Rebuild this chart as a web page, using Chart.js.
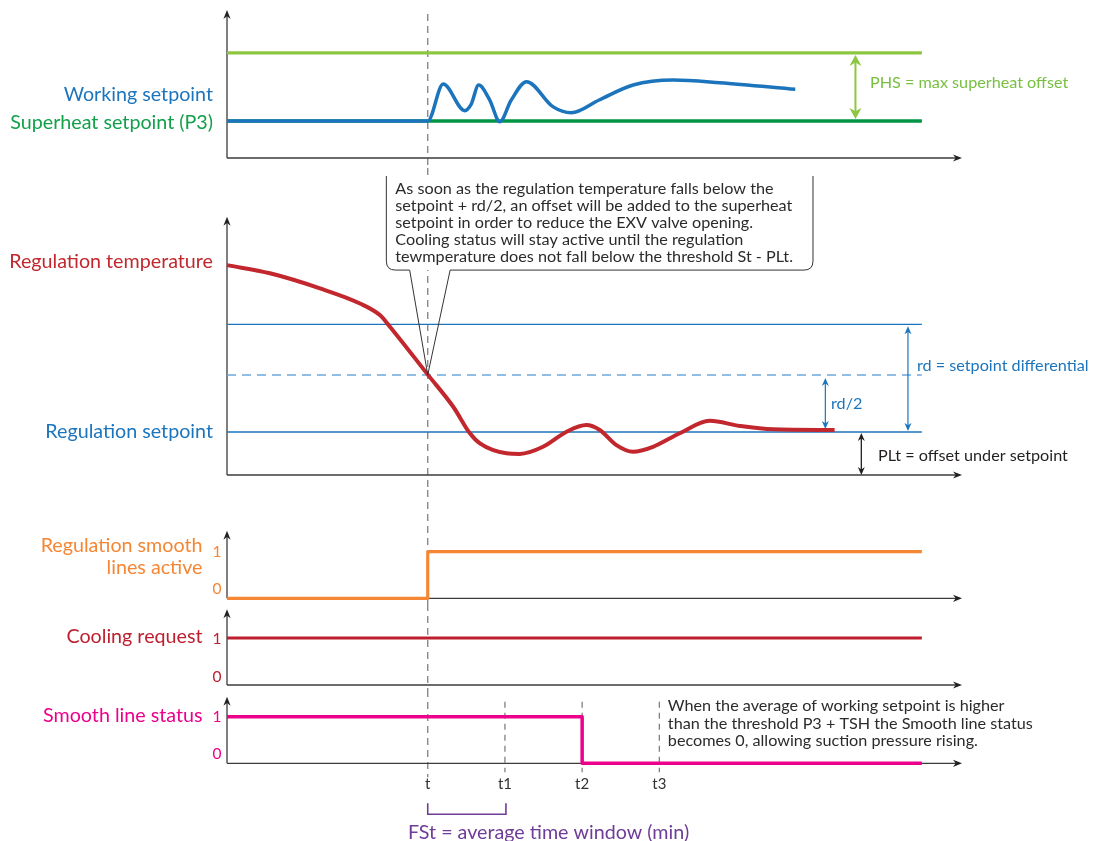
<!DOCTYPE html>
<html>
<head>
<meta charset="utf-8">
<script src="https://cdn.jsdelivr.net/npm/chart.js@4.4.1/dist/chart.umd.min.js"></script>
<style>
  body { margin: 0; background: #fff; width: 1093px; height: 841px; position: relative; overflow: hidden; }
  canvas { position: absolute; left: 0; display: block; }
</style>
</head>
<body>
<canvas id="p1" width="1093" height="168" style="top:0px"></canvas>
<canvas id="p2" width="1093" height="322" style="top:168px"></canvas>
<canvas id="p3" width="1093" height="114" style="top:490px"></canvas>
<canvas id="p4" width="1093" height="86" style="top:604px"></canvas>
<canvas id="p5" width="1093" height="151" style="top:690px"></canvas>
<script>
// time axis (minutes-ish units), t marks
const timeLabels = ['t', 't1', 't2', 't3']
const timeValues = [13, 18, 23, 28]
const lineX = [0, 45]

// panel 1 - superheat
const superheatSetpoint = [2.5, 2.5]
const maxSuperheat = [7.1, 7.1]
const workingX = [0, 13, 14, 15.4, 15.8, 16.3, 17.0, 17.67, 18.4, 19.4, 21.1, 22.3, 24.1, 26.3, 28.9, 31.9, 36.8]
const workingY = [2.5, 2.5, 5.0, 3.2, 3.6, 4.93, 3.95, 2.45, 3.9, 5.16, 3.47, 3.06, 3.92, 4.93, 5.27, 5.09, 4.64]

// panel 2 - regulation temperature
const regSetpoint = [2, 2]
const regHalfDiff = [4.65, 4.65]
const regDiff = [7, 7]
const regTempX = [0, 2.78, 6.02, 8.61, 9.9, 10.55, 13.03, 14.65, 15.73, 16.38, 18.1, 18.96, 20.47, 21.99, 23.28, 24.14, 25.22, 26.3, 27.59, 29.32, 31.26, 33.2, 35.36, 39.35]
const regTempY = [9.75, 9.37, 8.67, 7.97, 7.43, 6.89, 4.64, 3.17, 1.94, 1.47, 1.01, 0.98, 1.31, 2.01, 2.32, 2.09, 1.39, 1.08, 1.31, 1.94, 2.52, 2.28, 2.12, 2.09]

// digital signals
const smoothActiveX = [0, 13, 45]
const smoothActiveY = [0, 1, 1]
const coolingX = [0, 45]
const coolingY = [1, 1]
const smoothStatusX = [0, 23, 45]
const smoothStatusY = [1, 0, 0]

const FONT = 'Lato, "Open Sans", sans-serif'
const X_MAX = 47.6
const LABEL_SIZE = 19.7
const NOTE_SIZE = 16.2

function pts(xs, ys) {
  return xs.map((x, i) => ({ x: x, y: ys[i] }))
}

function head(ctx, x, y, dx, dy, len, half, color) {
  const bx = x - dx * len, by = y - dy * len
  const nx = -dy, ny = dx
  ctx.fillStyle = color
  ctx.beginPath()
  ctx.moveTo(x, y)
  ctx.lineTo(bx + nx * half, by + ny * half)
  ctx.lineTo(x - dx * len * 0.7, y - dy * len * 0.7)
  ctx.lineTo(bx - nx * half, by - ny * half)
  ctx.closePath()
  ctx.fill()
}

function dblArrow(ctx, x, y1, y2, color, width, len, half) {
  ctx.save()
  ctx.strokeStyle = color
  ctx.lineWidth = width
  ctx.beginPath()
  ctx.moveTo(x, y1 + len * 0.6)
  ctx.lineTo(x, y2 - len * 0.6)
  ctx.stroke()
  head(ctx, x, y1, 0, -1, len, half, color)
  head(ctx, x, y2, 0, 1, len, half, color)
  ctx.restore()
}

function text(ctx, str, x, y, color, size, align) {
  ctx.save()
  ctx.font = size + 'px ' + FONT
  ctx.fillStyle = color
  ctx.textAlign = align || 'left'
  ctx.textBaseline = 'middle'
  ctx.fillText(str, x, y)
  ctx.restore()
}

function drawAxes(chart) {
  const ctx = chart.ctx, a = chart.chartArea
  ctx.save()
  ctx.strokeStyle = '#3c3c3c'
  ctx.lineWidth = 1.3
  ctx.beginPath()
  ctx.moveTo(a.left, a.bottom)
  ctx.lineTo(a.left, a.top + 5)
  ctx.moveTo(a.left, a.bottom)
  ctx.lineTo(a.right - 5, a.bottom)
  ctx.stroke()
  head(ctx, a.left, a.top, 0, -1, 9, 3.6, '#222')
  head(ctx, a.right, a.bottom, 1, 0, 9, 3.6, '#222')
  ctx.restore()
}

function vDash(chart, xVal, y1, y2, dash) {
  const ctx = chart.ctx
  const x = chart.scales.x.getPixelForValue(xVal)
  ctx.save()
  ctx.strokeStyle = '#808080'
  ctx.lineWidth = 1.3
  ctx.setLineDash(dash || [7, 5])
  ctx.beginPath()
  ctx.moveTo(x, y1)
  ctx.lineTo(x, y2)
  ctx.stroke()
  ctx.restore()
}

function lineSet(data, color, width, extra) {
  return Object.assign({
    data: data, borderColor: color, borderWidth: width, pointRadius: 0, clip: 8,
    fill: false, borderCapStyle: 'butt', borderJoinStyle: 'round'
  }, extra || {})
}

function makeChart(id, datasets, yMax, padTop, padBottom, before, after) {
  return new Chart(document.getElementById(id), {
    type: 'line',
    data: { datasets: datasets },
    options: {
      responsive: false,
      animation: false,
      events: [],
      layout: { padding: { left: 227, right: 131, top: padTop, bottom: padBottom } },
      plugins: { legend: { display: false }, tooltip: { enabled: false } },
      scales: {
        x: { type: 'linear', min: 0, max: X_MAX, display: false },
        y: { type: 'linear', min: 0, max: yMax, display: false }
      }
    },
    plugins: [{
      id: 'decor-' + id,
      beforeDatasetsDraw(chart) { before && before(chart) },
      afterDatasetsDraw(chart) { after && after(chart) }
    }]
  })
}

// ---- panel 1: working setpoint / superheat
makeChart('p1', [
  lineSet(pts(workingX, workingY), '#1c75bc', 3.5, { cubicInterpolationMode: 'monotone' }),
  lineSet(pts(lineX, superheatSetpoint), '#009444', 3.5),
  lineSet(pts(lineX, maxSuperheat), '#8dc63f', 3.2)
], 10, 10, 10, chart => {
  vDash(chart, timeValues[0], 14, chart.height)
  drawAxes(chart)
}, chart => {
  const ctx = chart.ctx, sx = chart.scales.x, sy = chart.scales.y
  const p3 = sy.getPixelForValue(superheatSetpoint[0])
  const top = sy.getPixelForValue(maxSuperheat[0])
  text(ctx, 'Working setpoint', 213, p3 - 26, '#1c75bc', LABEL_SIZE, 'right')
  text(ctx, 'Superheat setpoint (P3)', 213, p3 + 2, '#12a04a', LABEL_SIZE, 'right')
  dblArrow(ctx, sx.getPixelForValue(40.7), top + 2, p3 - 2, '#8dc63f', 2, 11, 6)
  text(ctx, 'PHS = max superheat offset', 870, (top + p3) / 2 - 4, '#78c042', NOTE_SIZE, 'left')
})

// ---- panel 2: regulation temperature
const calloutLines = [
  'As soon as the regulation temperature falls below the',
  'setpoint + rd/2, an offset will be added to the superheat',
  'setpoint in order to reduce the EXV valve opening.',
  'Cooling status will stay active until the regulation',
  'tewmperature does not fall below the threshold St - PLt.'
]
makeChart('p2', [
  lineSet(pts(regTempX, regTempY), '#c1272d', 4, { cubicInterpolationMode: 'monotone' }),
  lineSet(pts(lineX, regSetpoint), '#1c75bc', 1.5),
  lineSet(pts(lineX, regHalfDiff), '#6ea8dc', 1.5, { borderDash: [9, 6] }),
  lineSet(pts(lineX, regDiff), '#1c75bc', 1.2)
], 12, 48.7, 15, chart => {
  vDash(chart, timeValues[0], 0, chart.height)
  drawAxes(chart)
}, chart => {
  const ctx = chart.ctx, sx = chart.scales.x, sy = chart.scales.y
  const sp = sy.getPixelForValue(regSetpoint[0])
  const half = sy.getPixelForValue(regHalfDiff[0])
  const full = sy.getPixelForValue(regDiff[0])
  const base = sy.getPixelForValue(0)
  text(ctx, 'Regulation temperature', 213, sy.getPixelForValue(regTempY[0]) - 3, '#c1272d', LABEL_SIZE, 'right')
  text(ctx, 'Regulation setpoint', 213, sp, '#1c75bc', LABEL_SIZE, 'right')

  dblArrow(ctx, sx.getPixelForValue(44.1), full + 2, sp - 1, '#1c75bc', 1.2, 8, 3.5)
  text(ctx, 'rd = setpoint differential', 917, (full + sp) / 2 - 12, '#1c75bc', NOTE_SIZE, 'left')
  dblArrow(ctx, sx.getPixelForValue(38.75), half + 3, sp - 3, '#1c75bc', 1.2, 8, 3.5)
  text(ctx, 'rd/2', 831, (half + sp) / 2, '#1c75bc', NOTE_SIZE, 'left')
  dblArrow(ctx, sx.getPixelForValue(41.08), sp + 1, base, '#231f20', 1.3, 8, 3.5)
  text(ctx, 'PLt = offset under setpoint', 878, (sp + base) / 2 + 2, '#231f20', NOTE_SIZE, 'left')

  // callout box pointing to the crossing at t
  const tipX = sx.getPixelForValue(timeValues[0]), tipY = half
  const left = sx.getPixelForValue(10.32), right = sx.getPixelForValue(37.95)
  const bLeft = sx.getPixelForValue(11.83), bRight = sx.getPixelForValue(14.45)
  const bottom = sy.getPixelForValue(9.52), top = sy.getPixelForValue(13.89)
  const r = 9
  ctx.save()
  ctx.fillStyle = '#fff'
  ctx.fillRect(left, top, right - left, bottom - top)
  ctx.strokeStyle = '#333'
  ctx.lineWidth = 1
  ctx.beginPath()
  ctx.moveTo(left, top)
  ctx.lineTo(left, bottom - r)
  ctx.quadraticCurveTo(left, bottom, left + r, bottom)
  ctx.lineTo(bLeft, bottom)
  ctx.lineTo(tipX, tipY)
  ctx.lineTo(bRight, bottom)
  ctx.lineTo(right - r, bottom)
  ctx.quadraticCurveTo(right, bottom, right, bottom - r)
  ctx.lineTo(right, top)
  ctx.stroke()
  ctx.restore()
  calloutLines.forEach((ln, i) => {
    text(ctx, ln, left + 9, top + 13 + i * 16.9, '#2b2b2b', NOTE_SIZE, 'left')
  })
})

// ---- panel 3: regulation smooth lines active
makeChart('p3', [
  lineSet(pts(smoothActiveX, smoothActiveY), '#f58634', 3.2, { stepped: 'before' })
], 1.45, 40.7, 5.7, chart => {
  vDash(chart, timeValues[0], 0, chart.height)
  drawAxes(chart)
}, chart => {
  const ctx = chart.ctx, sy = chart.scales.y
  const one = sy.getPixelForValue(1), zero = sy.getPixelForValue(0)
  text(ctx, 'Regulation smooth', 202.5, one - 6, '#f58634', LABEL_SIZE, 'right')
  text(ctx, 'lines active', 202.5, one + 16, '#f58634', LABEL_SIZE, 'right')
  text(ctx, '1', 217, one, '#f58634', 15.5, 'center')
  text(ctx, '0', 217, zero - 9, '#f58634', 15.5, 'center')
})

// ---- panel 4: cooling request
makeChart('p4', [
  lineSet(pts(coolingX, coolingY), '#be1e2d', 3.2)
], 1.61, 5.3, 5, chart => {
  vDash(chart, timeValues[0], 0, chart.height)
  drawAxes(chart)
}, chart => {
  const ctx = chart.ctx, sy = chart.scales.y
  const one = sy.getPixelForValue(1), zero = sy.getPixelForValue(0)
  text(ctx, 'Cooling request', 202.5, one - 1, '#be1e2d', LABEL_SIZE, 'right')
  text(ctx, '1', 217, one + 1, '#be1e2d', 15.5, 'center')
  text(ctx, '0', 217, zero - 8, '#be1e2d', 15.5, 'center')
})

// ---- panel 5: smooth line status
const noteLines = [
  'When the average of working setpoint is higher',
  'than the threshold P3 + TSH the Smooth line status',
  'becomes 0, allowing suction pressure rising.'
]
makeChart('p5', [
  lineSet(pts(smoothStatusX, smoothStatusY), '#ec008c', 3.5, { stepped: 'before' })
], 1.43, 6.7, 77.7, chart => {
  const a = chart.chartArea
  vDash(chart, timeValues[0], 0, a.bottom + 14)
  for (let i = 1; i < timeValues.length; i++) {
    vDash(chart, timeValues[i], a.top + 5, a.bottom + 9, [6, 5])
  }
  drawAxes(chart)
}, chart => {
  const ctx = chart.ctx, sx = chart.scales.x, sy = chart.scales.y, a = chart.chartArea
  const one = sy.getPixelForValue(1), zero = sy.getPixelForValue(0)
  text(ctx, 'Smooth line status', 202.5, one - 1, '#ec008c', LABEL_SIZE, 'right')
  text(ctx, '1', 217, one, '#ec008c', 15.5, 'center')
  text(ctx, '0', 217, zero - 9, '#ec008c', 15.5, 'center')

  timeLabels.forEach((lb, i) => {
    text(ctx, lb, sx.getPixelForValue(timeValues[i]), a.bottom + 21, '#333', 15, 'center')
  })
  // FSt bracket between t and t1
  const bx1 = sx.getPixelForValue(timeValues[0]), bx2 = sx.getPixelForValue(timeValues[1]) + 1
  ctx.save()
  ctx.strokeStyle = '#6f3c97'
  ctx.lineWidth = 1.6
  ctx.beginPath()
  ctx.moveTo(bx1, a.bottom + 40)
  ctx.lineTo(bx1, a.bottom + 51)
  ctx.lineTo(bx2, a.bottom + 51)
  ctx.lineTo(bx2, a.bottom + 40)
  ctx.stroke()
  ctx.restore()
  text(ctx, 'FSt = average time window (min)', 408, a.bottom + 69, '#6f3c97', LABEL_SIZE, 'left')

  const nx = sx.getPixelForValue(timeValues[3]) + 8.5
  noteLines.forEach((ln, i) => {
    text(ctx, ln, nx, a.top + 9.3 + i * 17.5, '#2b2b2b', NOTE_SIZE, 'left')
  })
})
</script>
</body>
</html>
